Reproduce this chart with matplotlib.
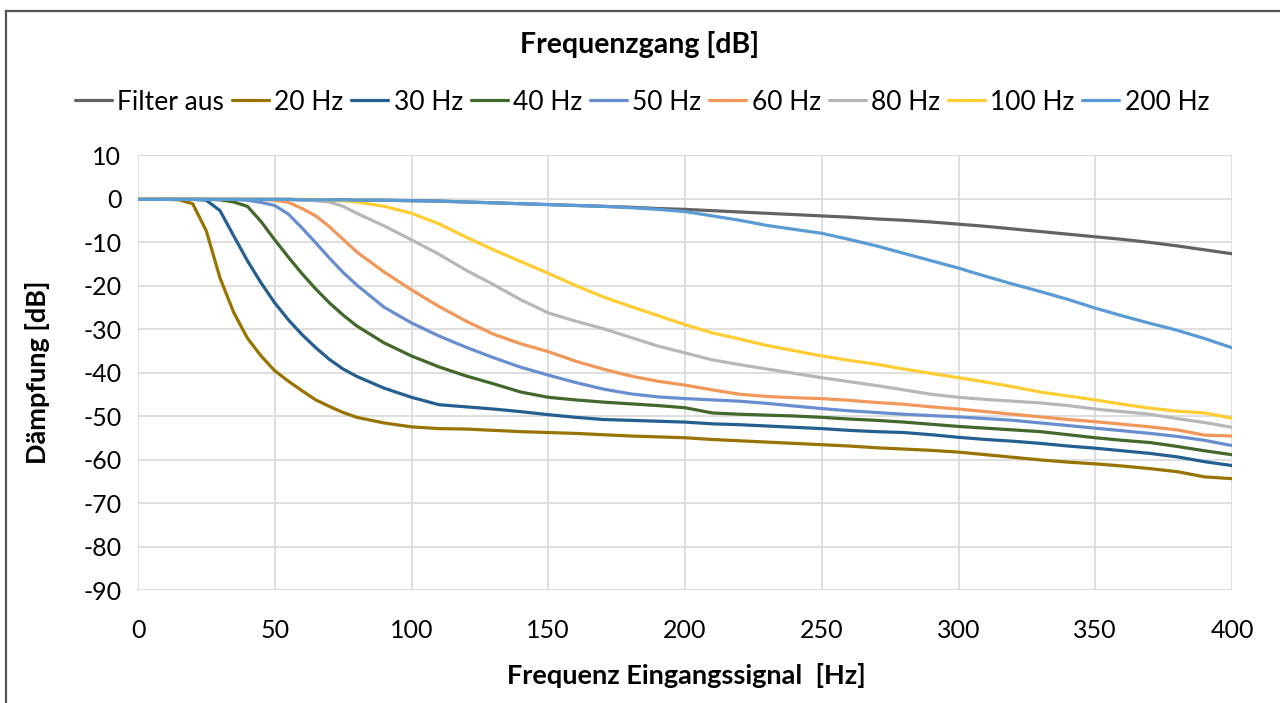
import numpy as np
import matplotlib
matplotlib.use("Agg")
import matplotlib.pyplot as plt
from matplotlib.lines import Line2D

plt.rcParams['font.family'] = ['Lato', 'DejaVu Sans']
plt.rcParams['axes.unicode_minus'] = False

# ---------------------------------------------------------------------
# DATA
# ---------------------------------------------------------------------
freq = [0, 10, 15, 20, 25, 30, 35, 40, 45, 50, 55, 60, 65, 70, 75, 80, 90, 100,
        110, 120, 130, 140, 150, 160, 170, 180, 190, 200, 210, 220, 230, 240, 250,
        260, 270, 280, 290, 300, 310, 320, 330, 340, 350, 360, 370, 380, 390, 400]

filter_aus = [-0.2, -0.2, -0.2, -0.2, -0.2, -0.2, -0.2, -0.2, -0.2, -0.2, -0.2, -0.3, -0.3, -0.3, -0.3, -0.4, -0.4, -0.5,
              -0.6, -0.8, -1.0, -1.2, -1.4, -1.6, -1.8, -2.0, -2.3, -2.5, -2.8, -3.1, -3.4, -3.7, -4.0,
              -4.3, -4.7, -5.0, -5.4, -5.9, -6.4, -7.0, -7.6, -8.2, -8.8, -9.4, -10.1, -10.9, -11.8, -12.7]

hz20 = [-0.2, -0.2, -0.3, -1.2, -7.5, -18.3, -26.2, -32.1, -36.2, -39.6, -42.0, -44.2, -46.3, -47.8, -49.2, -50.3, -51.6, -52.5,
        -52.9, -53.0, -53.3, -53.6, -53.8, -54.0, -54.3, -54.6, -54.8, -55.0, -55.4, -55.7, -56.0, -56.3, -56.6,
        -56.9, -57.3, -57.6, -57.9, -58.3, -58.9, -59.5, -60.1, -60.6, -61.0, -61.5, -62.1, -62.8, -64.0, -64.4]

hz30 = [-0.2, -0.2, -0.2, -0.2, -0.4, -2.8, -8.6, -14.3, -19.4, -24.0, -27.9, -31.3, -34.3, -37.0, -39.2, -40.9, -43.6, -45.7,
        -47.4, -47.9, -48.4, -49.0, -49.7, -50.3, -50.8, -51.0, -51.2, -51.4, -51.8, -52.0, -52.3, -52.6, -52.9,
        -53.3, -53.6, -53.8, -54.3, -54.9, -55.4, -55.8, -56.3, -56.9, -57.4, -58.0, -58.6, -59.4, -60.5, -61.4]

hz40 = [-0.2, -0.2, -0.2, -0.2, -0.2, -0.3, -0.8, -1.8, -5.3, -9.5, -13.5, -17.3, -20.8, -24.0, -26.8, -29.3, -33.2, -36.2,
        -38.7, -40.8, -42.6, -44.5, -45.7, -46.3, -46.8, -47.2, -47.6, -48.1, -49.3, -49.6, -49.8, -50.0, -50.3,
        -50.7, -51.0, -51.4, -51.9, -52.4, -52.8, -53.2, -53.6, -54.3, -55.0, -55.6, -56.1, -57.0, -58.0, -58.9]

hz50 = [-0.2, -0.2, -0.2, -0.2, -0.2, -0.2, -0.2, -0.4, -0.9, -1.6, -3.6, -6.8, -10.2, -13.7, -17.0, -19.9, -25.0, -28.6,
        -31.6, -34.2, -36.6, -38.8, -40.6, -42.3, -43.8, -44.9, -45.6, -46.0, -46.3, -46.6, -47.1, -47.7, -48.3,
        -48.8, -49.2, -49.6, -49.9, -50.2, -50.6, -51.0, -51.6, -52.2, -52.8, -53.4, -54.0, -54.7, -55.6, -56.8]

hz60 = [-0.2, -0.2, -0.2, -0.2, -0.2, -0.2, -0.2, -0.2, -0.2, -0.4, -0.9, -2.3, -4.0, -6.5, -9.4, -12.3, -16.9, -21.0,
        -24.8, -28.2, -31.2, -33.4, -35.2, -37.4, -39.2, -40.8, -42.0, -42.9, -44.0, -45.0, -45.5, -45.8, -46.0,
        -46.4, -46.9, -47.3, -47.9, -48.4, -49.0, -49.6, -50.2, -50.8, -51.3, -51.9, -52.5, -53.2, -54.4, -54.6]

hz80 = [-0.2, -0.2, -0.2, -0.2, -0.2, -0.2, -0.2, -0.2, -0.2, -0.2, -0.2, -0.3, -0.5, -0.8, -1.8, -3.4, -6.3, -9.5,
        -12.8, -16.5, -19.8, -23.3, -26.3, -28.2, -29.9, -31.9, -33.9, -35.5, -37.1, -38.2, -39.2, -40.2, -41.2,
        -42.1, -43.0, -44.0, -45.0, -45.7, -46.2, -46.6, -47.0, -47.6, -48.4, -49.0, -49.6, -50.6, -51.5, -52.6]

hz100 = [-0.2, -0.2, -0.2, -0.2, -0.2, -0.2, -0.2, -0.2, -0.2, -0.2, -0.2, -0.2, -0.2, -0.3, -0.5, -0.8, -1.8, -3.4,
         -5.8, -8.9, -11.8, -14.5, -17.2, -20.0, -22.6, -24.8, -26.9, -29.0, -30.9, -32.3, -33.8, -35.0, -36.2,
         -37.2, -38.1, -39.2, -40.2, -41.2, -42.2, -43.3, -44.5, -45.4, -46.3, -47.3, -48.2, -48.9, -49.3, -50.5]

hz200 = [-0.2, -0.2, -0.2, -0.2, -0.2, -0.2, -0.2, -0.2, -0.2, -0.2, -0.2, -0.3, -0.3, -0.3, -0.3, -0.4, -0.4, -0.5,
         -0.6, -0.8, -1.0, -1.2, -1.4, -1.6, -1.8, -2.1, -2.5, -3.0, -4.0, -5.0, -6.2, -7.1, -8.0,
         -9.4, -10.9, -12.6, -14.3, -16.0, -17.9, -19.7, -21.4, -23.2, -25.2, -27.0, -28.7, -30.3, -32.2, -34.3]

series_labels = ["Filter aus", "20 Hz", "30 Hz", "40 Hz", "50 Hz", "60 Hz", "80 Hz", "100 Hz", "200 Hz"]
series_values = [filter_aus, hz20, hz30, hz40, hz50, hz60, hz80, hz100, hz200]
series_colors = ["#636363", "#997300", "#255E91", "#43682B", "#698ED0",
                 "#F1975A", "#B7B7B7", "#FFCD33", "#5B9BD5"]

x_ticks = [0, 50, 100, 150, 200, 250, 300, 350, 400]
y_ticks = [10, 0, -10, -20, -30, -40, -50, -60, -70, -80, -90]

# ---------------------------------------------------------------------
# PLOT
# ---------------------------------------------------------------------
fig = plt.figure(figsize=(12.8, 7.03), dpi=100)
ax = fig.add_axes([138 / 1280, 1 - 590 / 703, (1232 - 138) / 1280, (590 - 155) / 703])

for label, vals, col in zip(series_labels, series_values, series_colors):
    ax.plot(freq, vals, color=col, lw=2.3, label=label,
            solid_capstyle='round', solid_joinstyle='round')

ax.set_xlim(0, 400)
ax.set_ylim(-90, 10)
ax.set_xticks(x_ticks)
ax.set_yticks(y_ticks)
ax.grid(True, color="#d9d9d9", lw=1.2)
ax.set_axisbelow(True)
for s in ax.spines.values():
    s.set_visible(False)
ax.tick_params(length=0, labelsize=18, colors="#000000", pad=12)
ax.tick_params(axis='x', pad=21)

ax.set_xlabel("Frequenz Eingangssignal  [Hz]", fontsize=19.5, fontweight='bold')
ax.set_ylabel("Dämpfung [dB]", fontsize=19.5, fontweight='bold')
ax.xaxis.set_label_coords((686 - 138) / 1094, -(675 - 590) / 435)
ax.yaxis.set_label_coords((38 - 138) / 1094, 0.5)
ax.xaxis.label.set_va('center')
ax.yaxis.label.set_va('center')

fig.text(640 / 1280, 1 - 45 / 703, "Frequenzgang [dB]", ha='center', va='center',
         fontsize=20.5, fontweight='bold')

fig.legend(loc='center', bbox_to_anchor=(642 / 1280, 1 - 102 / 703), ncol=9, frameon=False,
           fontsize=19, handlelength=1.4, handletextpad=0.2, columnspacing=0.3)

# outer chart border (left and top edges visible)
fig.add_artist(Line2D([6 / 1280, 6 / 1280], [0, 1 - 11 / 703], transform=fig.transFigure,
                      color="#555555", lw=1.6))
fig.add_artist(Line2D([6 / 1280, 1], [1 - 11 / 703, 1 - 11 / 703], transform=fig.transFigure,
                      color="#555555", lw=1.6))

fig.savefig("out.png", dpi=100)
